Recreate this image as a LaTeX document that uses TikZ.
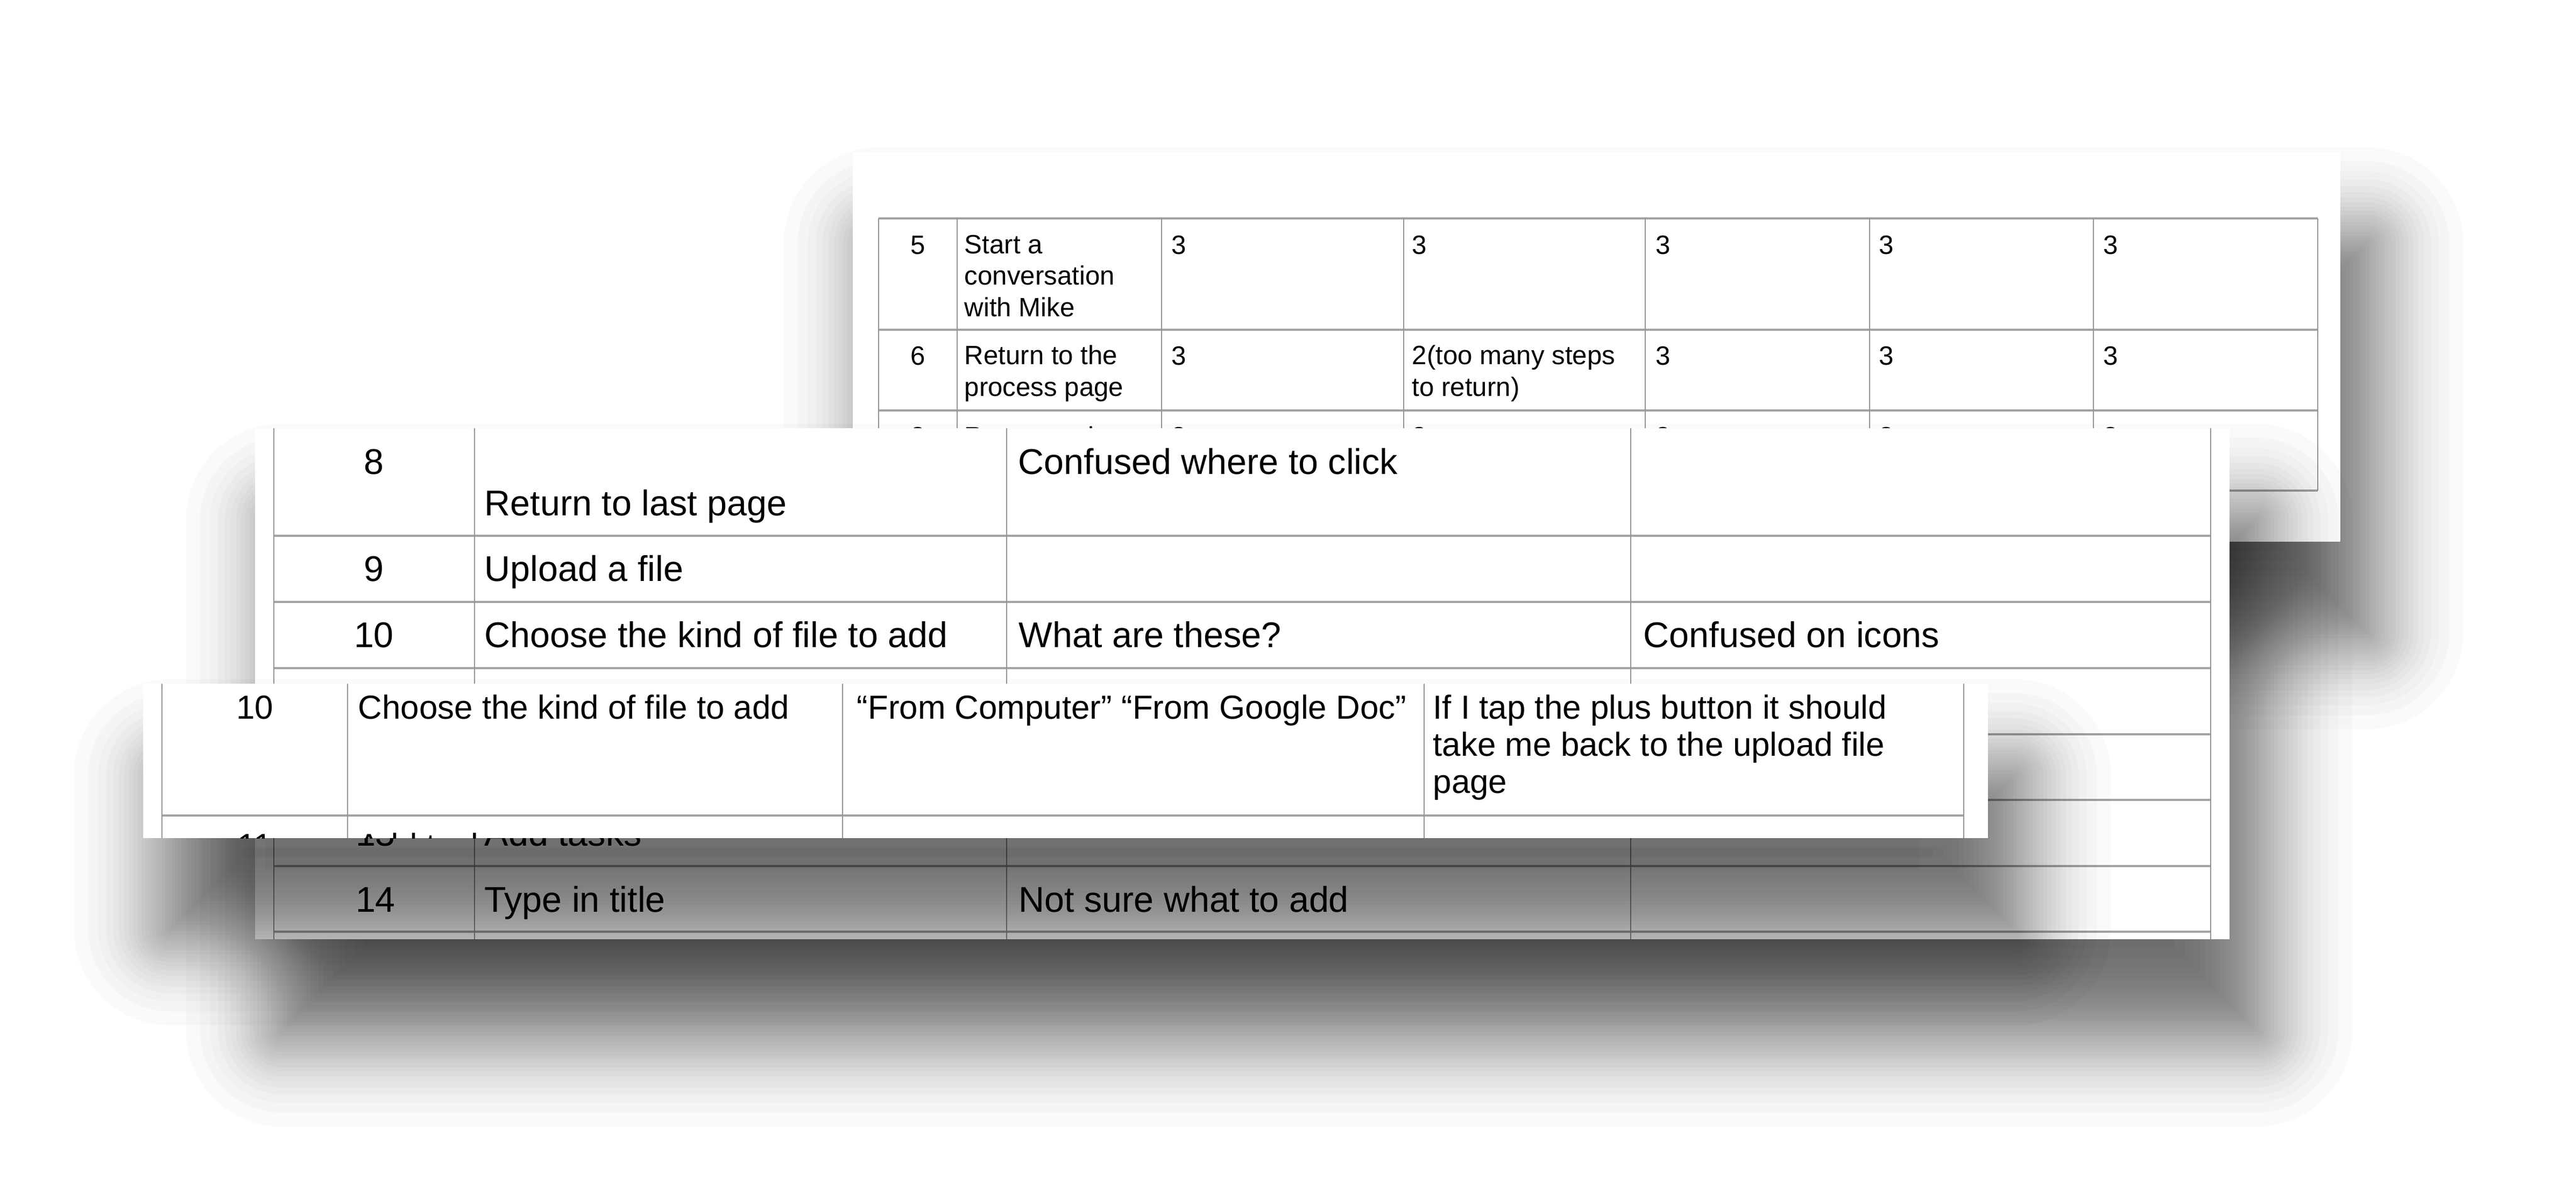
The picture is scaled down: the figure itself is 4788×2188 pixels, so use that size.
\documentclass[tikz,border=0pt]{standalone}
\usepackage{fontspec}
\setmainfont{Liberation Sans}
\tikzset{every node/.append style={inner sep=0pt}}
\tikzset{
  sheet/.style={fill=white},
  hrule/.style={draw=black!36, line width=1pt},
  vrule/.style={draw=black!42, line width=0.45pt},
  cell/.style={anchor=base west, align=left},
  num/.style={anchor=base},
}
\newcommand\backfont{\fontsize{14}{16.5}\selectfont}
\newcommand\midfont{\fontsize{18.9}{22}\selectfont}
\newcommand\frontfont{\fontsize{17.6}{19.6}\selectfont}
% soft drop shadow under a sheet: x1 y1 x2 y2
\newcommand\sheetshadow[4]{%
  \foreach \k in {2,...,39}{
    \pgfmathsetmacro\r{60*ln(\k/(41-\k))}
    \pgfmathsetmacro\rc{max(\r,0.5)*0.01}
    \pgfmathsetmacro\xa{#1+50-(\r)}
    \pgfmathsetmacro\ya{#2+170-(\r)}
    \pgfmathsetmacro\xb{#3+50+\r}
    \pgfmathsetmacro\yb{#4+170+\r}
    \fill[black, opacity=0.019, rounded corners=\rc cm] (\xa,\ya) rectangle (\xb,\yb);
  }}

\begin{document}
\begin{tikzpicture}[x=0.01cm, y=-0.01cm]
\useasboundingbox (0,0) rectangle (4788,2188);
\fill[white] (0,0) rectangle (4788,2188);

% back sheet
\sheetshadow{1585}{282}{4350}{1007}
\fill[sheet] (1585,282) rectangle (4350,1007);
\foreach \y in {406,613,763,912}
  \draw[hrule] (1633,\y) -- (4308,\y);
\foreach \x in {1633,1779,2159,2609,3058,3475,3891,4308}
  \draw[vrule] (\x,406) -- (\x,912);
% multi-line cells sit on the baseline of their last line
\begin{scope}[font=\backfont]
  \node[num] (b5) at (1706,472) {5};
  \node[cell] (b5t) at (1792,588) {Start a\\conversation\\with Mike};
  \node[cell] (b5a) at (2177,472) {3};
  \node[cell] (b5b) at (2624,472) {3};
  \node[cell] (b5c) at (3077,472) {3};
  \node[cell] (b5d) at (3492,472) {3};
  \node[cell] (b5e) at (3909,472) {3};
  \node[num] (b6) at (1706,678) {6};
  \node[cell] (b6t) at (1792,736) {Return to the\\process page};
  \node[cell] (b6a) at (2177,678) {3};
  \node[cell] (b6b) at (2624,736) {2(too many steps\\to return)};
  \node[cell] (b6c) at (3077,678) {3};
  \node[cell] (b6d) at (3492,678) {3};
  \node[cell] (b6e) at (3909,678) {3};
  \node[num] (b7) at (1706,828) {8};
  \node[cell] (b7t) at (1792,828) {Return to the};
  \node[cell] (b7a) at (2177,828) {3};
  \node[cell] (b7b) at (2624,828) {3};
  \node[cell] (b7c) at (3077,828) {3};
  \node[cell] (b7d) at (3492,828) {3};
  \node[cell] (b7e) at (3909,828) {3};
\end{scope}

% middle sheet
\sheetshadow{474}{796}{4144}{1746}
\fill[sheet] (474,796) rectangle (4144,1746);
\foreach \y in {996,1119,1242,1365,1487,1610,1732}
  \draw[hrule] (509,\y) -- (4109,\y);
\foreach \x in {509,882,1871,3031,4109}
  \draw[vrule] (\x,796) -- (\x,1746);
\begin{scope}[font=\midfont]
  \node[num] (m8) at (695,881) {8};
  \node[cell] (m8t) at (900,958) {Return to last page};
  \node[cell] (m8a) at (1892,881) {Confused where to click};
  \node[num] (m9) at (695,1080) {9};
  \node[cell] (m9t) at (900,1080) {Upload a file};
  \node[num] (m10) at (695,1203) {10};
  \node[cell] (m10t) at (900,1203) {Choose the kind of file to add};
  \node[cell] (m10a) at (1893,1203) {What are these?};
  \node[cell] (m10b) at (3054,1203) {Confused on icons};
  \node[num] (m13) at (698,1572) {13};
  \node[cell] (m13t) at (900,1572) {Add tasks};
  \node[num] (m14) at (698,1695) {14};
  \node[cell] (m14t) at (900,1695) {Type in title};
  \node[cell] (m14a) at (1893,1695) {Not sure what to add};
\end{scope}

% front sheet
\sheetshadow{266}{1271}{3695}{1558}
\fill[sheet] (266,1271) rectangle (3695,1558);
\begin{scope}[font=\frontfont]
  \clip (266,1271) rectangle (3695,1558);
  \draw[hrule] (301,1516) -- (3650,1516);
  \foreach \x in {301,646,1566,2647,3650}
    \draw[vrule] (\x,1271) -- (\x,1558);
  \node[num] (f10) at (474,1336) {10};
  \node[cell] (f10t) at (665,1336) {Choose the kind of file to add};
  \node[cell] (f10a) at (1592,1336) {“From Computer” “From Google Doc”};
  \node[cell] (f10b) at (2663,1474) {If I tap the plus button it should\\take me back to the upload file\\page};
  \node[num] (f11) at (474,1593) {11};
  \node[cell] (f11t) at (665,1593) {Add tasks};
\end{scope}
\end{tikzpicture}
\end{document}
